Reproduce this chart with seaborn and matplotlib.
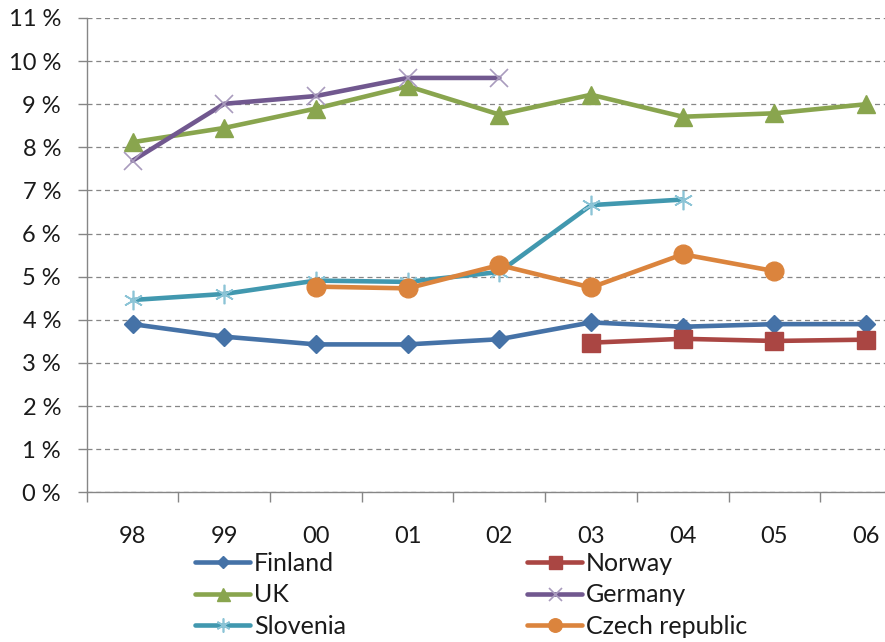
import numpy as np
import pandas as pd
import matplotlib
matplotlib.use("Agg")
import matplotlib.pyplot as plt
import seaborn as sns

nan = np.nan

# Data (percent)
years = ["98", "99", "00", "01", "02", "03", "04", "05", "06"]
finland = [3.90, 3.61, 3.43, 3.43, 3.55, 3.94, 3.84, 3.90, 3.90]
norway = [nan, nan, nan, nan, nan, 3.47, 3.56, 3.51, 3.54]
uk = [8.12, 8.45, 8.90, 9.42, 8.76, 9.22, 8.71, 8.79, 9.00]
germany = [7.69, 9.01, 9.19, 9.61, 9.61, nan, nan, nan, nan]
slovenia = [4.46, 4.60, 4.91, 4.88, 5.11, 6.66, 6.79, nan, nan]
czech = [nan, nan, 4.77, 4.73, 5.27, 4.75, 5.52, 5.13, nan]
y_ticks = list(range(0, 12))

series = {
    "Finland": finland,
    "Norway": norway,
    "UK": uk,
    "Germany": germany,
    "Slovenia": slovenia,
    "Czech republic": czech,
}

# style per series: line colour, marker, size, marker face, marker edge, edge width
styles = {
    "Finland": ("#4572A7", "D", 9, "#4572A7", "#4572A7", 1.0),
    "Norway": ("#AA4643", "s", 13, "#AA4643", "#AA4643", 1.0),
    "UK": ("#89A54E", "^", 13, "#89A54E", "#89A54E", 1.0),
    "Germany": ("#71588F", "x", 13, "#A99BBD", "#A99BBD", 1.2),
    "Slovenia": ("#4198AF", (6, 2, 0), 14, "#8CC4D6", "#8CC4D6", 1.2),
    "Czech republic": ("#DB843D", "o", 13.5, "#DB843D", "#DB843D", 1.0),
}

sns.set_style("white")
plt.rcParams["font.family"] = ["Lato", "DejaVu Sans"]
text_color = "#1a1a1a"
axis_color = "#868686"

fig = plt.figure(figsize=(8.85, 6.42), dpi=100)
ax = fig.add_axes([86.7 / 885, 1 - 492.3 / 642, (912 - 86.7) / 885, (492.3 - 18) / 642])

x = np.arange(len(years))
handles = {}
for name, vals in series.items():
    color, marker, ms, mfc, mec, mew = styles[name]
    df = pd.DataFrame({"x": x, "y": vals}).dropna()
    sns.lineplot(data=df, x="x", y="y", ax=ax, color=color, linewidth=3.3,
                 marker=marker, markersize=ms, markerfacecolor=mfc,
                 markeredgecolor=mec, markeredgewidth=mew, label=name,
                 clip_on=False)
    handles[name] = ax.get_lines()[-1]

if ax.get_legend() is not None:
    ax.get_legend().remove()

ax.set_xlim(-0.5, 8.5)
ax.set_ylim(0, 11)
ax.set_xticks(x)
ax.set_xticklabels(years)
ax.set_xticks(np.arange(-0.5, 9, 1), minor=True)
ax.set_yticks(y_ticks)
ax.set_yticklabels([f"{v} %" for v in y_ticks])
ax.set_xlabel("")
ax.set_ylabel("")

ax.grid(False)
ax.yaxis.grid(True, color=axis_color, linestyle=(0, (4, 3)), linewidth=0.9)
ax.set_axisbelow(True)

for side in ["top", "right"]:
    ax.spines[side].set_visible(False)
for side in ["left", "bottom"]:
    ax.spines[side].set_color(axis_color)
    ax.spines[side].set_linewidth(1.0)

ax.tick_params(axis="x", which="major", length=0, pad=24, labelsize=17, labelcolor=text_color)
ax.tick_params(axis="x", which="minor", length=7, width=1, direction="out",
               color=axis_color, bottom=True)
ax.tick_params(axis="y", length=6.5, width=1, direction="out", color=axis_color,
               pad=12, labelsize=17, labelcolor=text_color, left=True)

leg_kw = dict(frameon=False, fontsize=18, borderpad=0, borderaxespad=0,
              handlelength=2.2, handletextpad=0.17, labelspacing=0.33,
              markerscale=0.72, loc="upper left", labelcolor=text_color)
left_names = ["Finland", "UK", "Slovenia"]
right_names = ["Norway", "Germany", "Czech republic"]
leg1 = fig.legend([handles[n] for n in left_names], left_names,
                  bbox_to_anchor=(195 / 885, 1 - 552 / 642), **leg_kw)
leg2 = fig.legend([handles[n] for n in right_names], right_names,
                  bbox_to_anchor=(527 / 885, 1 - 552 / 642), **leg_kw)

fig.savefig("out.png", dpi=100)
